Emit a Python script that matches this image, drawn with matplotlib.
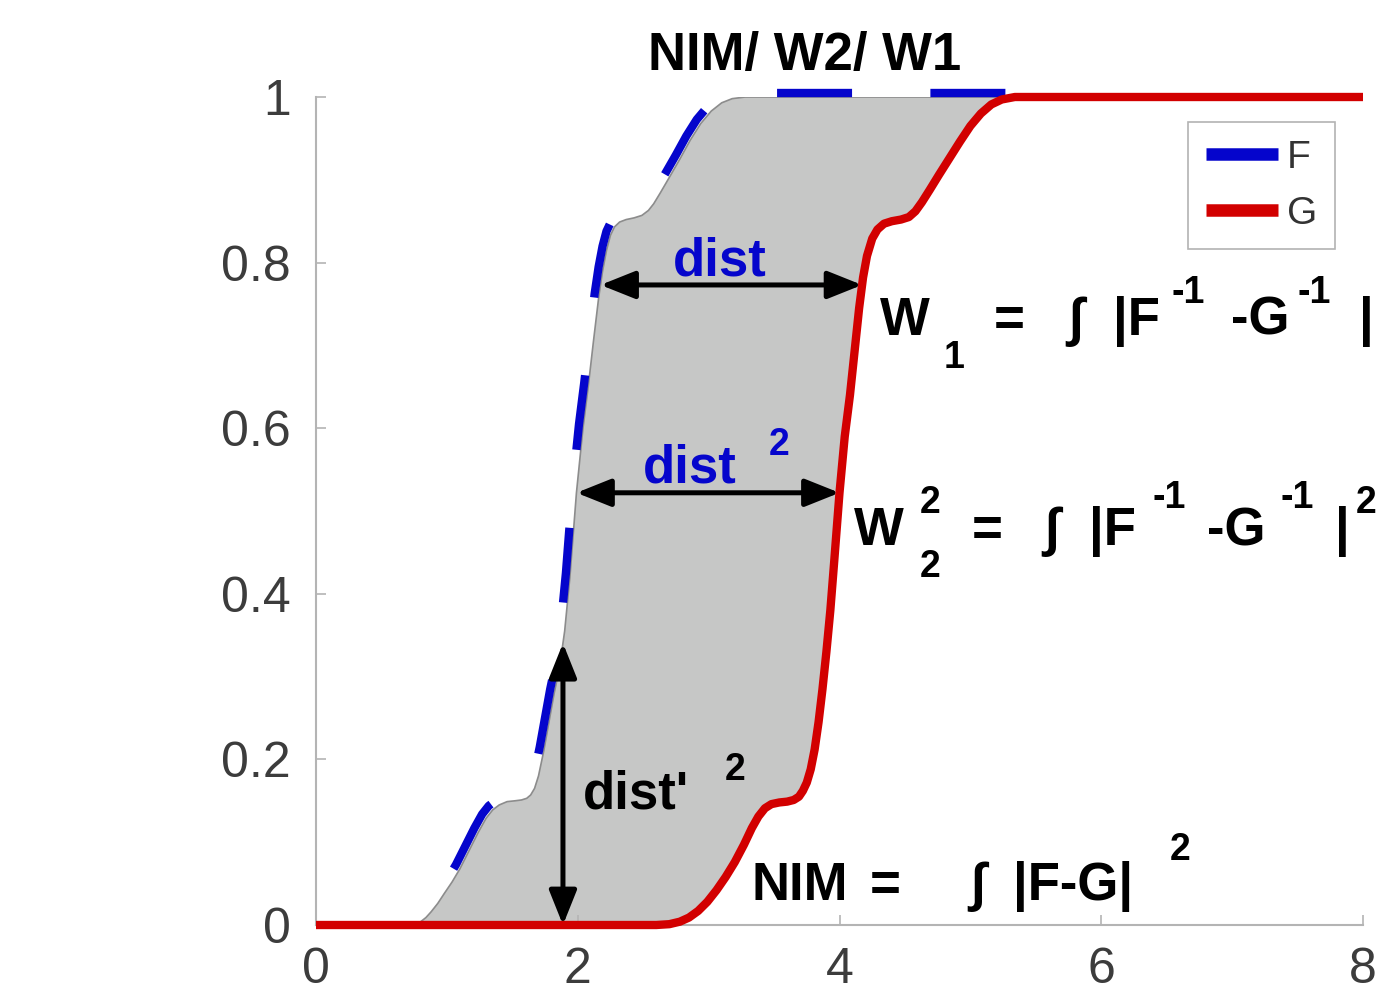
import numpy as np
import matplotlib
matplotlib.use("Agg")
import matplotlib.pyplot as plt
from matplotlib.lines import Line2D
from matplotlib.transforms import offset_copy

# Two cumulative distribution functions, F and G (G lies to the right of F)
F_x = [0.00, 0.70, 0.76, 0.80, 0.84, 0.88, 0.93, 0.98, 1.04, 1.10, 1.17, 1.24,
       1.30, 1.35, 1.40, 1.46, 1.52, 1.57, 1.61, 1.64, 1.67, 1.70, 1.74, 1.78,
       1.82, 1.86, 1.90, 1.94, 1.99, 2.04, 2.08, 2.12, 2.16, 2.19, 2.22, 2.25,
       2.28, 2.32, 2.37, 2.43, 2.49, 2.54, 2.58, 2.63, 2.70, 2.78, 2.86, 2.94,
       3.02, 3.10, 3.18, 3.28, 3.60, 5.30, 8.00]
F_y = [0.000, 0.000, 0.001, 0.004, 0.009, 0.016, 0.026, 0.038, 0.052, 0.068, 0.090, 0.112,
       0.129, 0.139, 0.145, 0.149, 0.150, 0.151, 0.153, 0.157, 0.165, 0.180, 0.210, 0.245,
       0.280, 0.310, 0.355, 0.420, 0.522, 0.600, 0.650, 0.705, 0.758, 0.790, 0.815, 0.833,
       0.843, 0.849, 0.852, 0.854, 0.857, 0.863, 0.871, 0.884, 0.903, 0.925, 0.948, 0.968,
       0.983, 0.993, 0.998, 1.000, 1.000, 1.000, 1.000]

G_x = [0.00, 2.60, 2.70, 2.78, 2.85, 2.92, 2.99, 3.06, 3.13, 3.20, 3.27, 3.33,
       3.38, 3.43, 3.48, 3.54, 3.60, 3.65, 3.69, 3.72, 3.75, 3.78, 3.81, 3.84,
       3.87, 3.90, 3.93, 3.96, 4.00, 4.04, 4.08, 4.12, 4.15, 4.18, 4.21, 4.25,
       4.29, 4.34, 4.40, 4.47, 4.53, 4.58, 4.63, 4.69, 4.76, 4.84, 4.92, 5.00,
       5.08, 5.16, 5.24, 5.34, 8.00]
G_y = [0.000, 0.000, 0.001, 0.004, 0.009, 0.017, 0.028, 0.042, 0.058, 0.076, 0.097, 0.117,
       0.131, 0.141, 0.146, 0.148, 0.149, 0.151, 0.155, 0.162, 0.172, 0.188, 0.212, 0.245,
       0.285, 0.330, 0.380, 0.440, 0.522, 0.590, 0.640, 0.700, 0.745, 0.782, 0.808, 0.829,
       0.840, 0.847, 0.850, 0.852, 0.855, 0.862, 0.873, 0.888, 0.906, 0.926, 0.946, 0.965,
       0.980, 0.991, 0.997, 1.000, 1.000]

x_ticks = [0, 2, 4, 6, 8]
y_ticks = [0, 0.2, 0.4, 0.6, 0.8, 1.0]
y_tick_labels = ["0", "0.2", "0.4", "0.6", "0.8", "1"]

# levels / positions of the distance arrows
w1_level = 0.773
w2_level = 0.522
nim_x = 1.887

BLUE = "#0505cc"
RED = "#d20000"
FILL = "#c6c7c6"
FONT = ["Liberation Sans", "DejaVu Sans"]

plt.rcParams["font.family"] = FONT

fig = plt.figure(figsize=(13.83, 9.94), dpi=100)
W, H = 1383, 994
ax = fig.add_axes([316 / W, 1 - 925 / H, 1047 / W, 828 / H])

F_x = np.array(F_x); F_y = np.array(F_y)
G_x = np.array(G_x); G_y = np.array(G_y)

# shaded area between the two CDFs
poly_x = np.concatenate([F_x, G_x[::-1]])
poly_y = np.concatenate([F_y, G_y[::-1]])
ax.fill(poly_x, poly_y, color=FILL, zorder=1, lw=0)
ax.plot(F_x, F_y, color="#8c8c8c", lw=1.2, zorder=1.5)

# F: dashed blue
m = (F_x >= 0.8) & (F_x <= 5.3)
tr = offset_copy(ax.transData, fig=fig, x=-4, y=4, units="dots")
ax.plot(F_x[m], F_y[m], color=BLUE, lw=6, linestyle=(11.0, (9.0, 9.4)),
        dash_capstyle="butt", dash_joinstyle="round", transform=tr,
        zorder=2, clip_on=False)

# G: solid red
ax.plot(G_x, G_y, color=RED, lw=6, zorder=3, clip_on=False,
        solid_joinstyle="round", solid_capstyle="butt")

# arrows
def rising(xs, ys):
    k = (ys > 0) & (ys < 1)
    return xs[k], ys[k]

fx, fy = rising(F_x, F_y)
gx, gy = rising(G_x, G_y)
aprops = dict(arrowstyle="<|-|>,head_length=1.05,head_width=0.42",
              mutation_scale=20, lw=3.6, color="black",
              shrinkA=0, shrinkB=0)
for lvl in (w1_level, w2_level):
    x0 = np.interp(lvl, fy, fx)
    x1 = np.interp(lvl, gy, gx)
    ax.annotate("", xy=(x1, lvl), xytext=(x0, lvl), arrowprops=aprops, zorder=4)
y_top = np.interp(nim_x, F_x, F_y)
ax.annotate("", xy=(nim_x, y_top), xytext=(nim_x, 0.0), arrowprops=aprops,
            zorder=4, annotation_clip=False)

# axes styling
ax.set_xlim(0, 8)
ax.set_ylim(0, 1)
ax.set_xticks(x_ticks)
ax.set_xticklabels([str(v) for v in x_ticks])
ax.set_yticks(y_ticks)
ax.set_yticklabels(y_tick_labels)
for s in ("top", "right"):
    ax.spines[s].set_visible(False)
for s in ("left", "bottom"):
    ax.spines[s].set_color("#b4b4b4")
    ax.spines[s].set_linewidth(1.5)
ax.tick_params(direction="in", length=7, width=1.2, color="#b4b4b4",
               labelsize=36, labelcolor="#3c3c3c")
ax.tick_params(axis="y", pad=18)
ax.tick_params(axis="x", pad=16)

BIG = 38
SMALL = 27

def t(x, y, s, size=BIG, color="black"):
    ax.text(x, y, s, fontsize=size, fontweight="bold", color=color,
            ha="left", va="baseline", family=FONT, zorder=5, clip_on=False)

# title
ax.text(3.736, 1.0326, "NIM/ W2/ W1", fontsize=BIG, fontweight="bold",
        ha="center", va="baseline", family=FONT, clip_on=False)

# arrow labels
t(2.728, 0.785, "dist", color=BLUE)
t(2.500, 0.534, "dist", color=BLUE)
t(3.460, 0.5676, "2", SMALL, BLUE)
t(2.040, 0.1413, "dist'")
t(3.125, 0.175, "2", SMALL)

# W1 formula
y1, y1sub, y1sup = 0.7126, 0.6727, 0.7512
t(4.309, y1, "W"); t(4.798, y1sub, "1", SMALL); t(5.180, y1, "=")
t(5.746, y1, "\u222b"); t(6.090, y1, "|F"); t(6.540, y1sup, "-1", SMALL)
t(6.991, y1, "-G"); t(7.496, y1sup, "-1", SMALL); t(7.969, y1, "|")

# W2 formula
y2, y2sub, y2sup, y2m = 0.4589, 0.4203, 0.4976, 0.5036
t(4.111, y2, "W"); t(4.615, y2sup, "2", SMALL); t(4.615, y2sub, "2", SMALL)
t(5.012, y2, "="); t(5.563, y2, "\u222b"); t(5.906, y2, "|F")
t(6.388, y2m, "-1", SMALL); t(6.808, y2, "-G"); t(7.366, y2m, "-1", SMALL)
t(7.786, y2, "|"); t(7.947, y2sup, "2", SMALL)

# NIM formula
y3 = 0.0302
t(3.331, y3, "NIM"); t(4.233, y3, "="); t(4.997, y3, "\u222b")
t(5.326, y3, "|F-G|"); t(6.525, 0.0785, "2", SMALL)

# legend
handles = [Line2D([], [], color=BLUE, lw=9, solid_capstyle="butt"),
           Line2D([], [], color=RED, lw=9, solid_capstyle="butt")]
leg = ax.legend(handles, ["F", "G"], loc="upper right",
                bbox_to_anchor=(1335 / W, 1 - 122 / H), bbox_transform=fig.transFigure,
                borderaxespad=0, fontsize=28, handlelength=1.85, handletextpad=0.25,
                labelspacing=0.52, borderpad=0.45, frameon=True, fancybox=False)
leg.get_frame().set_edgecolor("#a0a0a0")
leg.get_frame().set_linewidth(1.2)
for txt in leg.get_texts():
    txt.set_color("#333333")

fig.savefig("out.png", dpi=100)
